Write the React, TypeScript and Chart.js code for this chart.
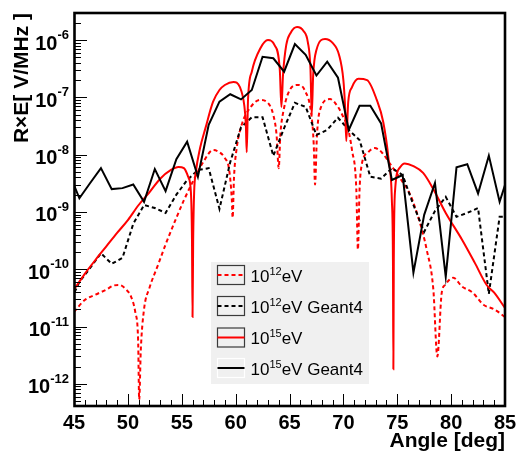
import React, { useEffect, useRef } from 'react';
import { Chart, registerables } from 'chart.js';

Chart.register(...registerables);

const FONT = '"Liberation Sans", Arial, Helvetica, sans-serif';

// Axis ranges
const xMin = 45;
const xMax = 85;
const yMin = 4.1e-13;
const yMax = 2.96e-6;

const xTickLabels = [45, 50, 55, 60, 65, 70, 75, 80, 85];
const yDecadeExponents = [-12, -11, -10, -9, -8, -7, -6];

// Geant4 simulations (sampled every degree, bin centres)
const g4Angles = [
  44.5, 45.5, 46.5, 47.5, 48.5, 49.5, 50.5, 51.5, 52.5, 53.5, 54.5, 55.5, 56.5, 57.5,
  58.5, 59.5, 60.5, 61.5, 62.5, 63.5, 64.5, 65.5, 66.5, 67.5, 68.5, 69.5, 70.5, 71.5,
  72.5, 73.5, 74.5, 75.5, 76.5, 77.5, 78.5, 79.5, 80.5, 81.5, 82.5, 83.5, 84.5, 85.5,
];
const g4E15 = [
  5.0e-9, 1.73e-9, 3.2e-9, 5.8e-9, 2.5e-9, 2.6e-9, 3.0e-9, 1.5e-9, 5.6e-9, 2.3e-9, 8.3e-9, 1.68e-8, 4.1e-9, 3.3e-8,
  8.4e-8, 1.13e-7, 9.2e-8, 1.34e-7, 5.1e-7, 4.8e-7, 2.8e-7, 8.5e-7, 5.5e-7, 2.4e-7, 4.2e-7, 2.2e-7, 2.7e-8, 7.1e-8,
  7.1e-8, 3.5e-8, 3.6e-9, 4.4e-9, 8.7e-11, 8.9e-10, 3.2e-9, 7.4e-11, 6.0e-9, 6.8e-9, 2.1e-9, 9.6e-9, 1.5e-9, 5.8e-9,
];
const g4E12 = [
  2.4e-11, 6.0e-11, 1.05e-10, 1.9e-10, 1.24e-10, 1.58e-10, 6.2e-10, 1.32e-9, 1.17e-9, 9.6e-10, 2.0e-9, 3.6e-9, 5.4e-9, 5.8e-9,
  1.13e-9, 7.4e-9, 3.0e-8, 4.5e-8, 4.5e-8, 9.5e-9, 2.9e-8, 8.0e-8, 6.8e-8, 2.2e-8, 2.7e-8, 4.4e-8, 2.7e-8, 1.8e-8,
  4.1e-9, 3.8e-9, 5.8e-9, 4.4e-9, 1.32e-9, 4.5e-10, 1.04e-9, 1.83e-9, 8.2e-10, 9.6e-10, 1.17e-9, 3.7e-11, 8.2e-10, 8.2e-10,
];

// Analytic calculation, 10^15 eV
const thE15Angles = [
  45, 46, 47, 48, 49, 50, 51, 52, 53, 54, 54.7, 55.2, 55.6, 55.85, 55.95, 56.0, 56.06, 56.15, 56.3, 56.7,
  57.2, 57.9, 58.5, 59.0, 59.8, 60.4, 60.8, 60.95, 61.03, 61.15, 61.5, 62.3, 63.0, 63.6, 64.1, 64.25, 64.4, 64.7,
  65.1, 65.7, 66.3, 66.7, 66.95, 67.06, 67.2, 67.5, 68.3, 69.0, 69.6, 70.0, 70.15, 70.27, 70.45, 70.8, 71.4, 72.2,
  73.1, 73.7, 74.2, 74.5, 74.6, 74.64, 74.68, 74.8, 75.2, 75.7, 76.5, 77.4, 78.3, 79.5, 81.0, 82.2, 83.3, 84.0, 85.0,
];
const thE15 = [
  4.4e-11, 8.3e-11, 1.46e-10, 2.5e-10, 4.3e-10, 7.2e-10, 1.32e-9, 2.2e-9, 3.8e-9, 5.4e-9, 6.1e-9, 5.8e-9, 4.1e-9, 2.2e-9, 3.3e-10, 1.47e-11, 3.3e-10, 2.2e-9, 4.8e-9, 1.3e-8,
  2.9e-8, 8.3e-8, 1.34e-7, 1.64e-7, 1.85e-7, 1.5e-7, 7.3e-8, 3.3e-8, 1.1e-8, 9.0e-8, 2.8e-7, 7.2e-7, 1.0e-6, 8.2e-7, 3.0e-7, 6.8e-8, 2.5e-7, 8.2e-7,
  1.33e-6, 1.69e-6, 1.44e-6, 9.2e-7, 3.0e-7, 4.9e-8, 2.5e-7, 6.7e-7, 1.04e-6, 8.9e-7, 5.5e-7, 2.0e-7, 7.3e-8, 1.73e-8, 8.3e-8, 1.5e-7, 2.1e-7, 2.0e-7,
  9.0e-8, 3.7e-8, 8.1e-9, 1.6e-9, 1.46e-10, 1.8e-12, 1.46e-10, 2.4e-9, 5.8e-9, 7.0e-9, 6.3e-9, 4.8e-9, 2.6e-9, 9.6e-10, 3.3e-10, 1.29e-10, 5.3e-11, 3.9e-11, 2.1e-11,
];

// Analytic calculation, 10^12 eV
const thE12Angles = [
  45, 46, 47, 48, 48.7, 49.2, 49.8, 50.3, 50.7, 50.95, 51.05, 51.2, 51.5, 52.0, 52.8, 53.5, 54.5, 55.2, 56.0, 57.0,
  57.9, 58.5, 59.0, 59.4, 59.65, 59.72, 59.85, 60.1, 60.56, 61.33, 62.26, 62.9, 63.5, 63.8, 64.0, 64.15, 64.4,
  65.35, 65.8, 66.4, 67.06, 67.25, 67.37, 67.55, 67.83, 68.76, 69.5, 70.0, 70.4, 70.8, 71.2, 71.35, 71.5, 71.7,
  72.3, 72.9, 73.55, 74.4, 75.25, 76.2, 77.1, 77.73, 78.35, 78.72, 79.12, 79.43, 80.2, 81.0, 82.0, 83.0, 84.0, 85.0,
];
const thE12 = [
  1.8e-11, 2.9e-11, 3.6e-11, 4.4e-11, 5.2e-11, 5.3e-11, 4.5e-11, 3.3e-11, 1.73e-11, 5.8e-12, 5.3e-13, 3.9e-12, 2.0e-11, 4.7e-11, 1.19e-10, 2.7e-10, 7.9e-10, 1.6e-9, 3.3e-9, 7.4e-9,
  1.2e-8, 1.1e-8, 8.7e-9, 5.4e-9, 1.6e-9, 7.9e-10, 4.0e-9, 1.3e-8, 3.3e-8, 6.5e-8, 9.0e-8, 8.3e-8, 4.9e-8, 2.2e-8, 5.8e-9, 2.2e-8, 5.3e-8,
  1.58e-7, 1.64e-7, 1.34e-7, 4.5e-8, 1.47e-8, 3.0e-9, 2.2e-8, 6.0e-8, 9.3e-8, 6.8e-8, 4.5e-8, 3.0e-8, 1.2e-8, 2.5e-9, 2.2e-10, 2.4e-9, 6.6e-9,
  1.1e-8, 1.3e-8, 1.1e-8, 6.6e-9, 3.9e-9, 2.0e-9, 6.5e-10, 2.2e-10, 4.4e-11, 3.0e-12, 3.8e-11, 5.3e-11, 7.1e-11, 5.0e-11, 3.9e-11, 2.4e-11, 2.0e-11, 1.47e-11,
];

const legendBase = ['10', '10', '10', '10'];
const legendExp = ['12', '12', '15', '15'];
const legendSuffix = ['eV', 'eV Geant4', 'eV', 'eV Geant4'];

const yTitle = 'R\u00d7E[ V/MHz ]';
const xTitle = 'Angle [deg]';

const RED = '#ff0000';
const BLACK = '#000000';

const toXY = (xs: number[], ys: number[]) => xs.map((x, i) => ({ x, y: ys[i] }));

const rootStyle = {
  id: 'rootStyle',
  afterDatasetsDraw(chart: any) {
    const { ctx, chartArea: a, scales } = chart;
    const xs = scales.x;
    const ys = scales.y;
    ctx.save();

    // Legend
    const lx = 211, ly = 262, lw = 158, lh = 122;
    ctx.fillStyle = '#f0f0f0';
    ctx.fillRect(lx, ly, lw, lh);
    const rowY = [275, 306, 337.5, 368];
    const styles = [
      { c: RED, dash: [4, 3] },
      { c: BLACK, dash: [4, 3] },
      { c: RED, dash: [] as number[] },
      { c: BLACK, dash: [] as number[] },
    ];
    for (let i = 0; i < 4; i++) {
      const cy = rowY[i];
      ctx.setLineDash([]);
      ctx.lineWidth = 1.2;
      ctx.strokeStyle = i === 3 ? '#ffffff' : '#3a3a3a';
      ctx.strokeRect(217.5, cy - 9.5, 27, 19);
      ctx.strokeStyle = styles[i].c;
      ctx.lineWidth = 2;
      ctx.setLineDash(styles[i].dash);
      ctx.beginPath();
      ctx.moveTo(217.5, cy);
      ctx.lineTo(244.5, cy);
      ctx.stroke();
      ctx.setLineDash([]);
      ctx.fillStyle = '#000';
      ctx.textAlign = 'left';
      ctx.textBaseline = 'alphabetic';
      ctx.font = `17px ${FONT}`;
      let tx = 250.5;
      ctx.fillText(legendBase[i], tx, cy + 6.5);
      tx += ctx.measureText(legendBase[i]).width;
      ctx.font = `11px ${FONT}`;
      ctx.fillText(legendExp[i], tx, cy - 0.5);
      tx += ctx.measureText(legendExp[i]).width;
      ctx.font = `17px ${FONT}`;
      ctx.fillText(legendSuffix[i], tx, cy + 6.5);
    }

    // Frame
    ctx.strokeStyle = '#000';
    ctx.lineWidth = 2.6;
    ctx.strokeRect(a.left + 0.5, a.top, a.right - a.left - 0.5, a.bottom - a.top);

    // X ticks
    ctx.lineWidth = 1;
    ctx.beginPath();
    for (let d = xMin; d <= xMax; d++) {
      const px = Math.round(xs.getPixelForValue(d)) + 0.5;
      const len = d % 5 === 0 ? 12 : 6;
      ctx.moveTo(px, a.bottom);
      ctx.lineTo(px, a.bottom - len);
    }
    // Y ticks
    for (let n = -13; n <= -6; n++) {
      for (let k = 1; k <= 9; k++) {
        const v = k * Math.pow(10, n);
        if (v < yMin || v > yMax) continue;
        const py = Math.round(ys.getPixelForValue(v)) + 0.5;
        const len = k === 1 ? 13 : 7;
        ctx.moveTo(a.left, py);
        ctx.lineTo(a.left + len, py);
      }
    }
    ctx.stroke();

    // X tick labels
    ctx.fillStyle = '#000';
    ctx.font = `bold 20px ${FONT}`;
    ctx.textAlign = 'center';
    ctx.textBaseline = 'alphabetic';
    for (const t of xTickLabels) {
      ctx.fillText(String(t), xs.getPixelForValue(t), 429);
    }

    // Y tick labels
    ctx.textAlign = 'left';
    for (const e of yDecadeExponents) {
      const py = ys.getPixelForValue(Math.pow(10, e));
      ctx.font = `bold 13px ${FONT}`;
      const sup = String(e);
      const ws = ctx.measureText(sup).width;
      ctx.font = `bold 20px ${FONT}`;
      const wb = ctx.measureText('10').width;
      const x0 = 69 - ws - wb;
      ctx.fillText('10', x0, py + 9.5);
      ctx.font = `bold 13px ${FONT}`;
      ctx.fillText(sup, x0 + wb, py - 1);
    }

    // Axis titles
    ctx.font = `bold 21px ${FONT}`;
    ctx.textAlign = 'right';
    ctx.fillText(xTitle, 505, 447);
    ctx.save();
    ctx.translate(28, 13);
    ctx.rotate(-Math.PI / 2);
    ctx.textAlign = 'right';
    ctx.fillText(yTitle, 0, 0);
    ctx.restore();

    ctx.restore();
  },
};

export default function App() {
  const ref = useRef<HTMLCanvasElement | null>(null);

  useEffect(() => {
    document.body.style.margin = '0';
    const canvas = ref.current;
    if (!canvas) return;
    const chart = new Chart(canvas, {
      type: 'line',
      data: {
        datasets: [
          {
            label: '10^12 eV',
            data: toXY(thE12Angles, thE12),
            borderColor: RED,
            borderWidth: 2,
            borderDash: [4, 3],
            pointRadius: 0,
            cubicInterpolationMode: 'monotone',
            fill: false,
            order: 4,
          },
          {
            label: '10^12 eV Geant4',
            data: toXY(g4Angles, g4E12),
            borderColor: BLACK,
            borderWidth: 2,
            borderDash: [4, 3],
            pointRadius: 0,
            tension: 0,
            fill: false,
            order: 3,
          },
          {
            label: '10^15 eV',
            data: toXY(thE15Angles, thE15),
            borderColor: RED,
            borderWidth: 2,
            pointRadius: 0,
            cubicInterpolationMode: 'monotone',
            fill: false,
            order: 2,
          },
          {
            label: '10^15 eV Geant4',
            data: toXY(g4Angles, g4E15),
            borderColor: BLACK,
            borderWidth: 2,
            pointRadius: 0,
            tension: 0,
            fill: false,
            order: 1,
          },
        ],
      },
      options: {
        animation: false,
        responsive: false,
        devicePixelRatio: 1,
        layout: { padding: { left: 74, right: 11, top: 13, bottom: 51 } },
        plugins: {
          legend: { display: false },
          tooltip: { enabled: false },
        },
        scales: {
          x: { type: 'linear', min: xMin, max: xMax, display: false },
          y: { type: 'logarithmic', min: yMin, max: yMax, display: false },
        },
      },
      plugins: [rootStyle],
    });
    return () => chart.destroy();
  }, []);

  return (
    <div style={{ width: 516, height: 457, background: '#fff' }}>
      <canvas ref={ref} width={516} height={457} style={{ display: 'block' }} />
    </div>
  );
}
